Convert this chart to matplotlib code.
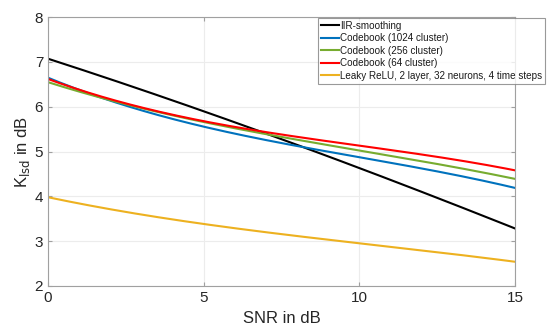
import matplotlib
matplotlib.use("Agg")
import matplotlib.pyplot as plt
import numpy as np

plt.rcParams['font.family'] = ['Liberation Sans', 'DejaVu Sans']

snr = [0, 2.5, 5, 7.5, 10, 12.5, 15]
iir = [7.07, 6.50, 5.90, 5.27, 4.63, 3.97, 3.28]
cb1024 = [6.65, 6.02, 5.55, 5.20, 4.87, 4.55, 4.19]
cb256 = [6.55, 6.05, 5.66, 5.33, 5.02, 4.72, 4.39]
cb64 = [6.62, 6.07, 5.68, 5.38, 5.13, 4.88, 4.58]
leaky = [3.98, 3.65, 3.38, 3.16, 2.95, 2.75, 2.54]

labels = ["IIR-smoothing", "Codebook (1024 cluster)", "Codebook (256 cluster)",
          "Codebook (64 cluster)", "Leaky ReLU, 2 layer, 32 neurons, 4 time steps"]
colors = ["#000000", "#0072BD", "#77AC30", "#FF0000", "#EDB120"]

fig = plt.figure(figsize=(5.58, 3.29), dpi=100)
ax = fig.add_axes([0.086, 0.131, 0.837, 0.817])

xs = np.linspace(0, 15, 200)
for ys, c, lab in zip([iir, cb1024, cb256, cb64, leaky], colors, labels):
    coef = np.polyfit(snr, ys, 3)
    ax.plot(xs, np.polyval(coef, xs), color=c, lw=1.5, label=lab)

ax.set_xlim(0, 15)
ax.set_ylim(2, 8)
ax.set_xticks([0, 5, 10, 15])
ax.set_yticks([2, 3, 4, 5, 6, 7, 8])
ax.grid(True, color='#ececec', lw=0.8)
ax.set_axisbelow(True)
for s in ax.spines.values():
    s.set_color('#a0a0a0')
    s.set_linewidth(0.8)
ax.tick_params(direction='in', length=3, color='#a0a0a0', labelcolor='#262626',
               labelsize=11, top=True, right=True)
ax.tick_params(axis='x', pad=4)
ax.set_xlabel("SNR in dB", fontsize=12, color='#262626')
ax.set_ylabel(r"K$_{\mathrm{lsd}}$ in dB", fontsize=12, color='#262626', labelpad=2)

leg = fig.legend(loc='upper left', bbox_to_anchor=(0.570, 0.946), fontsize=7.1,
                 handlelength=1.8, handletextpad=0.15, labelspacing=0.25,
                 borderpad=0.3, borderaxespad=0, frameon=True, fancybox=False)
leg.get_frame().set_edgecolor('#808080')
leg.get_frame().set_linewidth(0.8)
for t in leg.get_texts():
    t.set_color('#1a1a1a')

fig.savefig("out.png", dpi=100)
